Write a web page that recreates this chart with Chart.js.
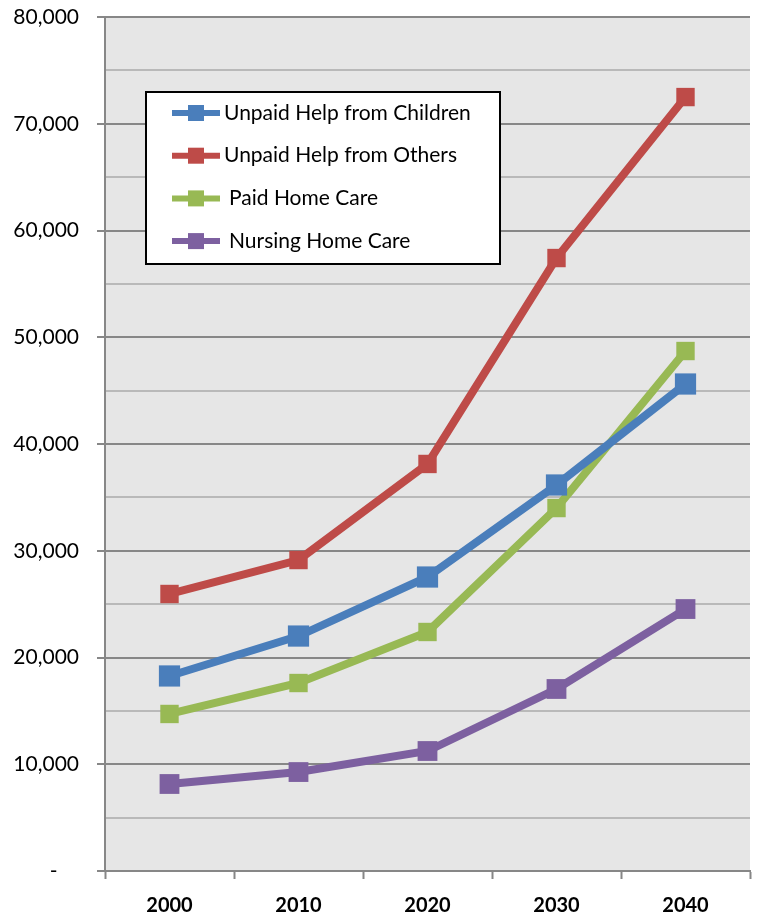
<!DOCTYPE html>
<html>
<head>
<meta charset="utf-8">
<script src="https://cdn.jsdelivr.net/npm/chart.js@4/dist/chart.umd.min.js"></script>
<style>
  html, body { margin: 0; background: #fff; }
  #wrap { width: 758px; height: 918px; }
</style>
</head>
<body>
<div id="wrap"><canvas id="care-chart"></canvas></div>
<script>
// projected care use by source, in thousands
const years = ['2000', '2010', '2020', '2030', '2040'];
const childrenHelp = [18270, 22010, 27540, 36160, 45620];
const othersHelp = [25950, 29130, 38130, 57420, 72500];
const paidHomeCare = [14710, 17610, 22390, 34000, 48710];
const nursingHomeCare = [8150, 9270, 11240, 17050, 24540];

const seriesNames = ['Unpaid Help from Children', 'Unpaid Help from Others', 'Paid Home Care', 'Nursing Home Care'];
const seriesColors = ['#4a7ebb', '#be4b48', '#98b954', '#7d60a0'];

const FONT = 'Lato, "Open Sans", sans-serif';
const MAJOR = '#878787';
const MINOR = '#b9b9b9';

// grey plot background
const plotBackground = {
  id: 'plotBackground',
  beforeDraw(chart) {
    const { ctx, chartArea: a } = chart;
    ctx.save();
    ctx.fillStyle = '#e6e6e6';
    ctx.fillRect(a.left, a.top, a.right - a.left, a.bottom - a.top);
    ctx.restore();
  }
};

// boxed legend sitting inside the plot
const boxedLegend = {
  id: 'boxedLegend',
  afterDraw(chart) {
    const { ctx, chartArea: a } = chart;
    const x = a.left + 41, y = a.top + 75, w = 354, h = 172;
    ctx.save();
    ctx.fillStyle = '#fff';
    ctx.fillRect(x, y, w, h);
    ctx.strokeStyle = '#000';
    ctx.lineWidth = 2;
    ctx.strokeRect(x, y, w, h);
    chart.data.datasets.forEach((ds, i) => {
      const cy = y + 21 + i * 42.7;
      ctx.strokeStyle = ds.borderColor;
      ctx.lineWidth = 6;
      ctx.beginPath();
      ctx.moveTo(x + 26, cy);
      ctx.lineTo(x + 74, cy);
      ctx.stroke();
      ctx.fillStyle = ds.borderColor;
      ctx.fillRect(x + 42, cy - 8, 16, 16);
      ctx.fillStyle = '#000';
      ctx.font = '21px ' + FONT;
      ctx.textBaseline = 'middle';
      ctx.fillText(ds.label, x + 78 + (i > 1 ? 5 : 0), cy);
    });
    ctx.restore();
  }
};

const seriesData = [childrenHelp, othersHelp, paidHomeCare, nursingHomeCare];
const markerSizes = [15, 13, 13, 14];

new Chart(document.getElementById('care-chart'), {
  type: 'line',
  data: {
    labels: years,
    datasets: seriesData.map((d, i) => ({
      label: seriesNames[i],
      data: d,
      borderColor: seriesColors[i],
      backgroundColor: seriesColors[i],
      borderWidth: 8,
      tension: 0,
      pointStyle: 'rect',
      pointRadius: markerSizes[i],
      pointBorderWidth: 0,
      pointHoverRadius: markerSizes[i]
    }))
  },
  options: {
    responsive: true,
    maintainAspectRatio: false,
    animation: false,
    layout: { autoPadding: false, padding: { top: 0, left: 0, bottom: 0, right: 8 } },
    plugins: {
      legend: { display: false },
      tooltip: { enabled: false }
    },
    scales: {
      x: {
        offset: true,
        grid: {
          offset: true,
          drawOnChartArea: false,
          drawTicks: true,
          tickLength: 8,
          tickColor: MAJOR,
          tickWidth: 2
        },
        border: { color: MAJOR, width: 2 },
        ticks: {
          color: '#000',
          padding: 15,
          font: { family: FONT, size: 20, weight: 'bold' }
        },
        afterFit(s) {
          s.height = 47;
          s.paddingLeft = 0;
          s.paddingRight = 0;
        }
      },
      y: {
        min: 0,
        max: 80000,
        ticks: {
          stepSize: 5000,
          autoSkip: false,
          color: '#000',
          padding: 18,
          font: { family: FONT, size: 21 },
          callback: v => v === 0 ? '-    ' : (v % 10000 === 0 ? v.toLocaleString('en-US') : '')
        },
        grid: {
          lineWidth: 2,
          color: c => (c.tick && c.tick.value % 10000 === 0) ? MAJOR : MINOR,
          tickLength: 8,
          tickColor: c => (c.tick && c.tick.value % 10000 === 0) ? MAJOR : 'rgba(0,0,0,0)'
        },
        border: { color: MAJOR, width: 2 },
        afterFit(s) {
          s.width = 105;
          s.paddingTop = 17;
          s.paddingBottom = 0;
        }
      }
    }
  },
  plugins: [plotBackground, boxedLegend]
});
</script>
</body>
</html>
